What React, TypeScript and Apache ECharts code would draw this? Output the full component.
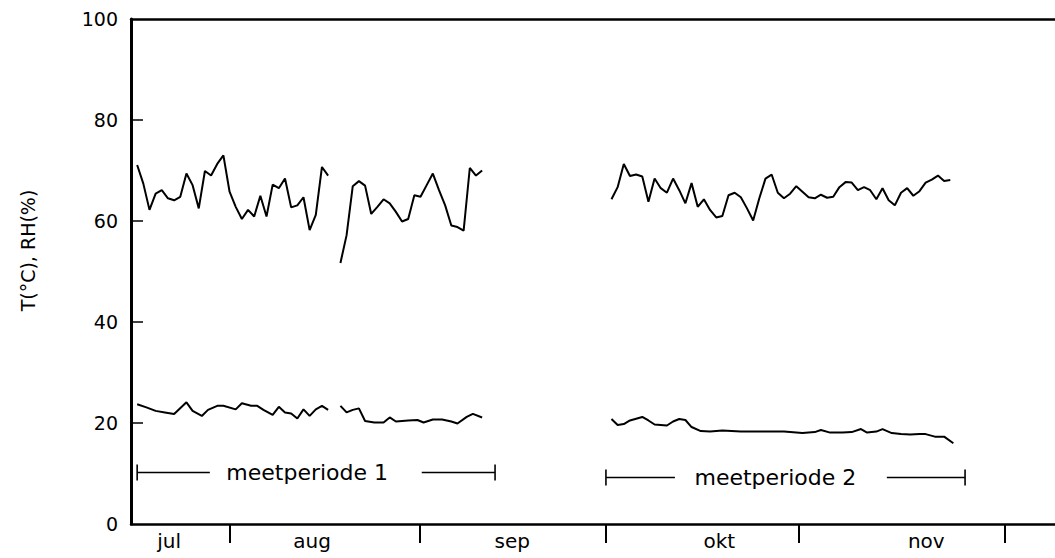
import React, { useEffect, useRef } from "react";
import * as echarts from "echarts";

// x = days since 15 July
const monthNames = ["jul", "aug", "sep", "okt", "nov"];
const monthLabelDays = [6.2, 29.4, 61.9, 95.5, 129.1];
const monthTickDays = [16.1, 46.9, 77.1, 108.4, 141.9];
const yTicks = [0, 20, 40, 60, 80, 100];

// Relative humidity (%), daily
const rh1aStart = 1;
const rh1a = [71.1, 67.4, 62.2, 65.4, 66.1, 64.5, 64.1, 64.8, 69.4, 67.1, 62.5, 69.9, 69.0, 71.3, 73.0, 65.8,
  62.8, 60.4, 62.2, 60.9, 65.0, 60.9, 67.2, 66.5, 68.4, 62.7, 63.1, 64.7, 58.2, 61.2, 70.7, 69.0];
const rh1bStart = 34;
const rh1b = [51.7, 57.2, 66.9, 67.9, 67.0, 61.4, 62.8, 64.3, 63.5, 61.8, 59.9, 60.4, 65.1, 64.8, 67.1, 69.4,
  66.1, 63.1, 59.1, 58.8, 58.1, 70.5, 69.0, 70.0];
const rh2Start = 78;
const rh2 = [64.3, 66.7, 71.3, 68.9, 69.2, 68.8, 63.8, 68.4, 66.5, 65.6, 68.4, 66.1, 63.5, 67.5, 62.8, 64.3,
  62.2, 60.7, 61.0, 65.1, 65.6, 64.7, 62.5, 60.1, 64.5, 68.4, 69.2, 65.6, 64.5, 65.4, 66.9, 65.8, 64.7, 64.5,
  65.2, 64.6, 64.8, 66.7, 67.7, 67.6, 66.1, 66.7, 66.1, 64.3, 66.5, 64.1, 63.1, 65.6, 66.5, 65.0, 65.9, 67.6,
  68.2, 69.0, 67.9, 68.1];

// Temperature (°C): day, value
const t1aDays = [1, 2.5, 4, 5.5, 7, 9, 10, 11.5, 12.5, 14, 15, 17, 18, 19.5, 20.5, 21.5, 23, 24, 25, 26, 27, 28, 29, 30, 31, 32];
const t1a = [23.7, 23.1, 22.4, 22.1, 21.8, 24.1, 22.4, 21.4, 22.6, 23.4, 23.4, 22.7, 23.9, 23.4, 23.4, 22.6,
  21.6, 23.2, 22.1, 21.9, 20.9, 22.7, 21.4, 22.7, 23.4, 22.6];
const t1bDays = [34, 35, 36, 37, 38, 39.5, 41, 42, 43, 45, 46.5, 47.5, 49, 50.5, 52, 53, 54.5, 55.5, 57];
const t1b = [23.4, 22.1, 22.6, 22.9, 20.4, 20.1, 20.1, 21.1, 20.3, 20.5, 20.6, 20.1, 20.7, 20.7, 20.3, 19.9, 21.2, 21.8, 21.1];
const t2Days = [78, 79, 80, 81, 83, 84, 85, 86, 87, 88, 89, 90, 91, 92.5, 94, 96, 99, 101.5, 104, 106, 107, 109,
  111, 112, 113.5, 115.5, 117, 118.5, 119.5, 121, 122, 123.5, 125, 126.5, 128, 129, 130.5, 132, 133.5];
const t2 = [20.8, 19.6, 19.8, 20.5, 21.2, 20.5, 19.7, 19.6, 19.5, 20.3, 20.8, 20.6, 19.2, 18.4, 18.3, 18.5, 18.3,
  18.3, 18.3, 18.3, 18.2, 18.0, 18.2, 18.6, 18.1, 18.1, 18.2, 18.8, 18.1, 18.3, 18.8, 18.0, 17.8, 17.7, 17.8,
  17.8, 17.3, 17.3, 16.0];

// Measuring periods: start, end, text gap from/to, text centre, level
const periodNames = ["meetperiode 1", "meetperiode 2"];
const periodStart = [1, 77.1];
const periodEnd = [59.1, 135.4];
const periodGapFrom = [12.8, 88.3];
const periodGapTo = [47.2, 122.7];
const periodTextAt = [28.6, 104.6];
const periodLevel = [10.2, 9.2];
const barHalf = 1.6;

const FONT = "DejaVu Sans";

function daily(start: number, vals: number[]) {
  return vals.map((v, i) => [start + i, v]);
}
function pairs(days: number[], vals: number[]) {
  return vals.map((v, i) => [days[i], v]);
}

export default function App() {
  const ref = useRef<HTMLDivElement>(null);
  useEffect(() => {
    if (!ref.current) return;
    const chart = echarts.init(ref.current, undefined, { renderer: "svg" });
    const dataLine = (data: number[][]) => ({
      type: "line",
      data,
      showSymbol: false,
      symbol: "none",
      silent: true,
      lineStyle: { color: "#000", width: 2 },
    });
    const thinLine = (data: number[][]) => ({
      type: "line",
      data,
      showSymbol: false,
      symbol: "none",
      silent: true,
      lineStyle: { color: "#000", width: 1.6 },
    });
    const bracketSeries: any[] = [];
    periodNames.forEach((name, i) => {
      const y = periodLevel[i];
      bracketSeries.push(thinLine([[periodStart[i], y], [periodGapFrom[i], y]]));
      bracketSeries.push(thinLine([[periodGapTo[i], y], [periodEnd[i], y]]));
      bracketSeries.push(thinLine([[periodStart[i], y - barHalf], [periodStart[i], y + barHalf]]));
      bracketSeries.push(thinLine([[periodEnd[i], y - barHalf], [periodEnd[i], y + barHalf]]));
      bracketSeries.push({
        type: "scatter",
        data: [[periodTextAt[i], y]],
        symbolSize: 0,
        silent: true,
        itemStyle: { opacity: 1, color: "#000" },
        label: {
          show: true,
          position: "inside",
          formatter: name,
          color: "#000",
          opacity: 1,
          fontFamily: FONT,
          fontSize: 22,
        },
      });
    });

    chart.setOption({
      animation: false,
      backgroundColor: "#fff",
      grid: { left: 131, right: 0, top: 19, bottom: 34, containLabel: false },
      xAxis: [
        {
          type: "value",
          min: 0,
          max: 150,
          position: "bottom",
          axisLine: { show: true, onZero: false, lineStyle: { color: "#000", width: 2.5 } },
          axisTick: { show: true, customValues: monthTickDays, length: 19, inside: false, lineStyle: { color: "#000", width: 2 } },
          axisLabel: {
            customValues: monthLabelDays,
            formatter: (v: number) => {
              const idx = monthLabelDays.findIndex((d) => Math.abs(d - v) < 0.01);
              return idx >= 0 ? monthNames[idx] : "";
            },
            color: "#000",
            fontFamily: FONT,
            fontSize: 20,
            margin: 7,
          },
          splitLine: { show: false },
        },
        {
          type: "value",
          min: 0,
          max: 150,
          position: "top",
          axisLine: { show: true, onZero: false, lineStyle: { color: "#000", width: 2.5 } },
          axisTick: { show: false },
          axisLabel: { show: false },
          splitLine: { show: false },
        },
      ],
      yAxis: {
        type: "value",
        min: 0,
        max: 100,
        interval: 20,
        name: "T(°C), RH(%)",
        nameLocation: "middle",
        nameGap: 94,
        nameTextStyle: { color: "#000", fontFamily: FONT, fontSize: 19, padding: [0, 0, 0, 42] },
        axisLine: { show: true, lineStyle: { color: "#000", width: 3 } },
        axisTick: { show: true, inside: true, length: 12, customValues: yTicks.slice(1, 5), lineStyle: { color: "#000", width: 1.5 } },
        axisLabel: { color: "#000", fontFamily: FONT, fontSize: 19, margin: 13 },
        splitLine: { show: false },
      },
      series: [
        dataLine(daily(rh1aStart, rh1a)),
        dataLine(daily(rh1bStart, rh1b)),
        dataLine(daily(rh2Start, rh2)),
        dataLine(pairs(t1aDays, t1a)),
        dataLine(pairs(t1bDays, t1b)),
        dataLine(pairs(t2Days, t2)),
        ...bracketSeries,
      ],
    });
    return () => chart.dispose();
  }, []);
  return (
    <div
      ref={ref}
      style={{ position: "fixed", left: 0, top: 0, width: 1055, height: 558, background: "#fff" }}
    />
  );
}
